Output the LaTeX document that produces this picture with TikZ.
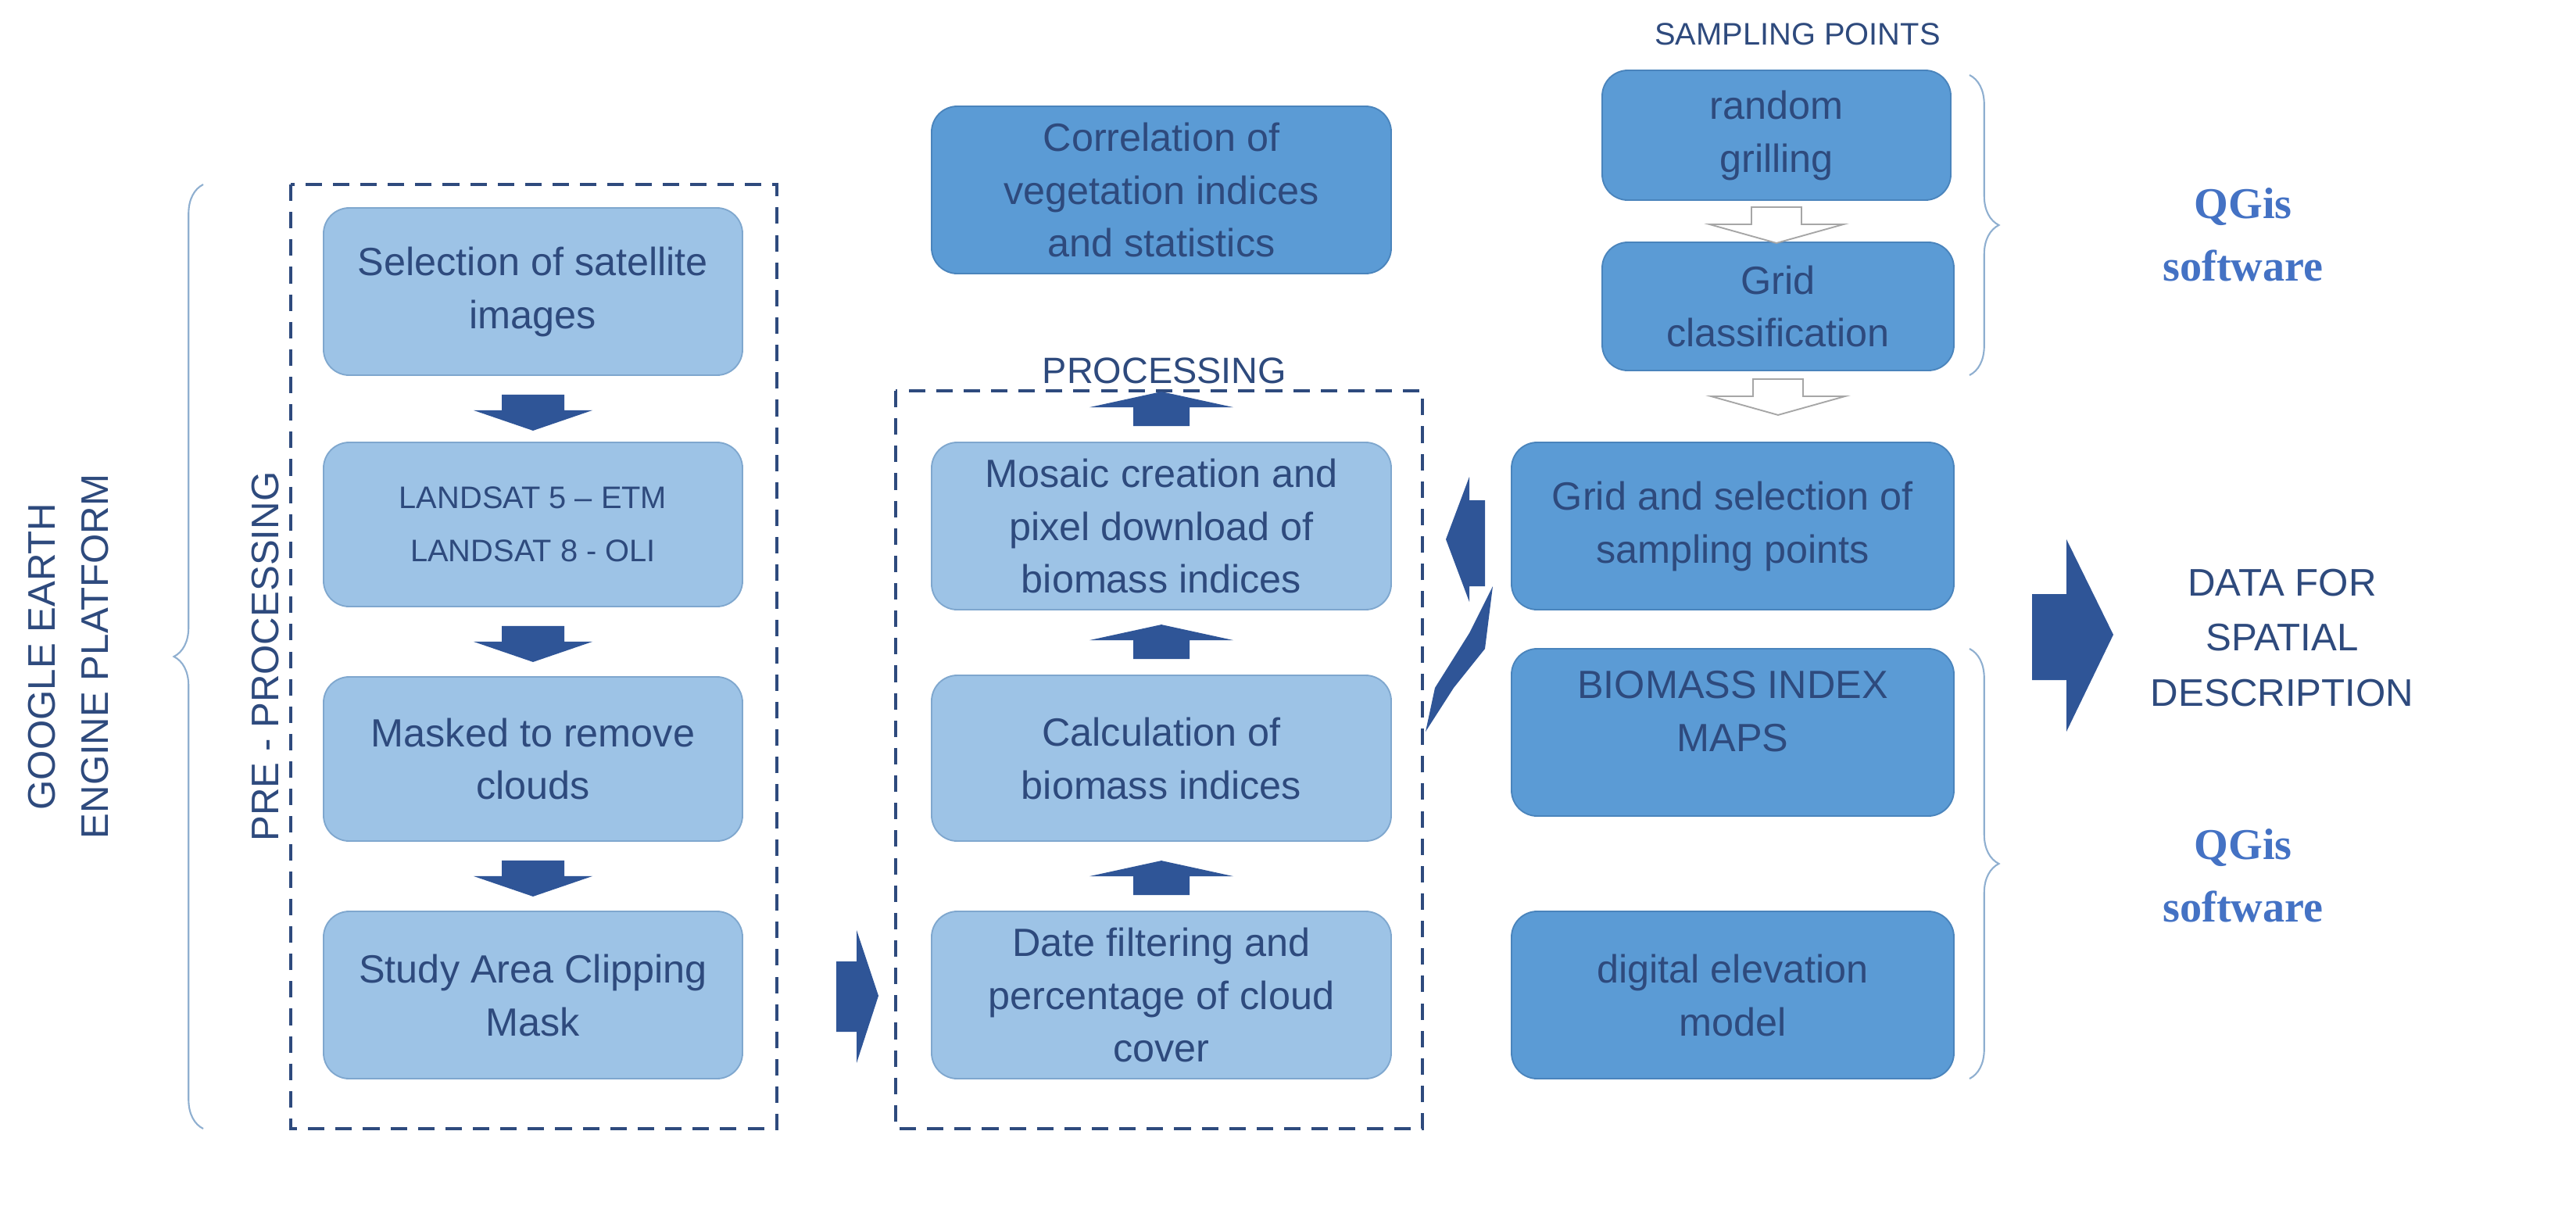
\documentclass[tikz,border=0pt]{standalone}
\usepackage{fontspec}
\setmainfont{Liberation Sans}
\newfontfamily\serifb{Liberation Serif}
\usetikzlibrary{decorations.pathreplacing,calc}
\definecolor{lbox}{HTML}{9DC3E6}
\definecolor{lbord}{HTML}{7FA7CE}
\definecolor{dbox}{HTML}{5B9BD5}
\definecolor{dbord}{HTML}{4A84BC}
\definecolor{txt}{HTML}{2E4A7D}
\definecolor{arr}{HTML}{2F5597}
\definecolor{qg}{HTML}{4472C4}
\definecolor{brc}{HTML}{8FAFD0}
\begin{document}
\begin{tikzpicture}[x=0.03cm,y=-0.03cm,
  bx/.style={draw=lbord,fill=lbox,rounded corners=14,line width=0.8pt,text=txt,align=center,
    font=\fontsize{21.5}{29}\selectfont,inner sep=0pt},
  dk/.style={bx,draw=dbord,fill=dbox},
  frame/.style={draw=txt,line width=1.8pt,dash pattern=on 9pt off 6pt},
  ar/.style={fill=arr,draw=none},
  har/.style={fill=white,draw=gray!70,line width=0.8pt},
  lab/.style={text=txt,font=\fontsize{20}{28}\selectfont,align=center},
  qgs/.style={text=qg,font=\serifb\bfseries\fontsize{24}{34}\selectfont,align=center},
  brace/.style={draw=brc,line width=0.9pt,decorate,decoration={brace,amplitude=16}}]
\useasboundingbox (0,0) rectangle (1648,778);
\def\B#1#2#3#4#5#6#7{\node[#1,minimum width={(#4-#3)*0.03cm},minimum height={(#6-#5)*0.03cm}] (#2) at ({(#3+#4)/2},{(#5+#6)/2}) {#7};}
\B{bx}{sel}{207}{475}{133}{240}{Selection of satellite\\images}
\B{bx}{land}{207}{475}{283}{388}{\fontsize{17}{26}\selectfont LANDSAT 5 -- ETM\\\fontsize{17}{26}\selectfont LANDSAT 8 - OLI}
\B{bx}{mask}{207}{475}{433}{538}{Masked to remove\\clouds}
\B{bx}{study}{207}{475}{583}{690}{Study Area Clipping\\Mask}
\B{dk}{corr}{596}{890}{68}{175}{Correlation of\\vegetation indices\\and statistics}
\B{bx}{mos}{596}{890}{283}{390}{Mosaic creation and\\pixel download of\\biomass indices}
\B{bx}{calc}{596}{890}{432}{538}{Calculation of\\biomass indices}
\B{bx}{date}{596}{890}{583}{690}{Date filtering and\\percentage of cloud\\cover}
\B{dk}{rand}{1025}{1248}{45}{128}{random\\grilling}
\B{dk}{gcl}{1025}{1250}{155}{237}{Grid\\classification}
\B{dk}{gsel}{967}{1250}{283}{390}{Grid and selection of\\sampling points}
\B{dk}{bim}{967}{1250}{415}{522}{BIOMASS INDEX\\MAPS\\[-6pt]\mbox{}}
\B{dk}{dem}{967}{1250}{583}{690}{digital elevation\\model}
% dashed frames
\draw[frame] (186,118) rectangle (497,722);
\draw[frame] (573,250) rectangle (910,722);
\node[lab] (proc) at (745,237) {PROCESSING};
\node[lab,font=\fontsize{17}{24}\selectfont] (samp) at (1150,22) {SAMPLING POINTS};
% rotated labels
\node[lab,rotate=90,font=\fontsize{21}{29}\selectfont] (gee) at (44,420) {GOOGLE EARTH\\ENGINE PLATFORM};
\node[lab,rotate=90,font=\fontsize{21}{29}\selectfont] (pre) at (170,420) {PRE - PROCESSING};
\draw[brace] (130,722) -- (130,118);
\draw[brace] (1260,48) -- (1260,240);
\draw[brace] (1260,415) -- (1260,690);
\node[qgs] (q1) at (1435,150) {QGis\\software};
\node[qgs] (q2) at (1435,560) {QGis\\software};
\node[lab,font=\fontsize{21}{30}\selectfont] (data) at (1460,408) {DATA FOR\\SPATIAL\\DESCRIPTION};
% down arrows left column
\foreach \a/\b in {sel/land,land/mask,mask/study}{
  \path[ar] ($(\a.south)+(-20,12)$) -- ++(40,0) -- ++(0,10) -- ++(18,0) -- ($(\a.south)+(0,35)$) -- ($(\a.south)+(-38,22)$) -- ++(18,0) -- cycle;}
% up arrows middle column
\foreach \a/\b in {date/calc,calc/mos,mos/corr}{
  \path[ar] ($(\a.north)+(-18,-10)$) -- ++(36,0) -- ++(0,-12) -- ++(28,0) -- ($(\a.north)+(0,-32)$) -- ($(\a.north)+(-46,-22)$) -- ++(28,0) -- cycle;}
% right arrow between frames
\path[ar] (535,615) -- (548,615) -- (548,595) -- (562,637) -- (548,680) -- (548,660) -- (535,660) -- cycle;
% left arrow to mosaic
\path[ar] (950,320) -- (950,375) -- (940,375) -- (940,385) -- (925,345) -- (940,305) -- (940,320) -- cycle;
% diagonal arrow
\path[ar] (912,468) -- (918,440) -- (940,405) -- (955,375) -- (950,415) -- (930,440) -- cycle;
% big right arrow
\path[ar] (1300,380) -- (1322,380) -- (1322,345) -- (1352,406) -- (1322,468) -- (1322,435) -- (1300,435) -- cycle;
% hollow arrows
\path[har] ($(rand.south)+(-16,4)$) -- ++(32,0) -- ++(0,11) -- ++(27,0) -- ($(rand.south)+(0,27)$) -- ($(rand.south)+(-43,15)$) -- ++(27,0) -- cycle;
\path[har] ($(gcl.south)+(-16,5)$) -- ++(32,0) -- ++(0,11) -- ++(27,0) -- ($(gcl.south)+(0,28)$) -- ($(gcl.south)+(-43,16)$) -- ++(27,0) -- cycle;
\end{tikzpicture}
\end{document}
